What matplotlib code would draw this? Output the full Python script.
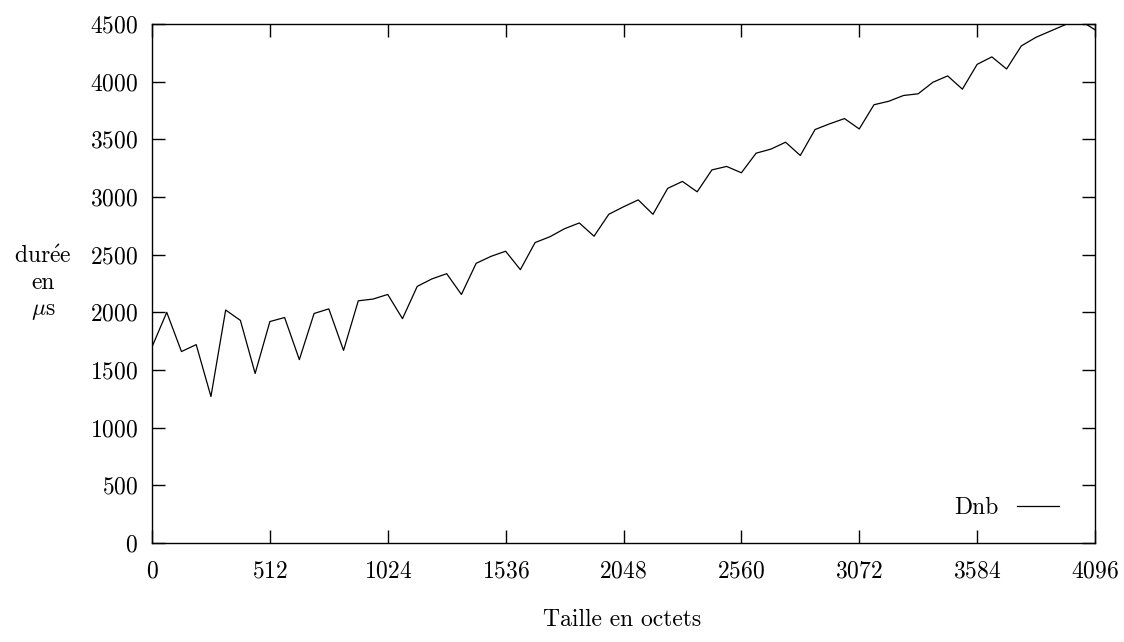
import matplotlib
matplotlib.use("Agg")
import matplotlib.pyplot as plt

# taille du message (octets) et durée mesurée (µs)
tailles = [0, 64, 128, 192, 256, 320, 384, 448, 512, 576, 640, 704, 768, 832,
           896, 960, 1024, 1088, 1152, 1216, 1280, 1344, 1408, 1472, 1536,
           1600, 1664, 1728, 1792, 1856, 1920, 1984, 2048, 2112, 2176, 2240,
           2304, 2368, 2432, 2496, 2560, 2624, 2688, 2752, 2816, 2880, 2944,
           3008, 3072, 3136, 3200, 3264, 3328, 3392, 3456, 3520, 3584, 3648,
           3712, 3776, 3840, 3904, 3968, 4032, 4096]
duree_dnb = [1700, 2000, 1660, 1720, 1270, 2020, 1930, 1470, 1920, 1955, 1590,
             1990, 2030, 1670, 2100, 2115, 2155, 1945, 2225, 2290, 2335, 2155,
             2425, 2485, 2530, 2370, 2605, 2655, 2725, 2775, 2660, 2850, 2915,
             2975, 2850, 3075, 3135, 3045, 3235, 3265, 3210, 3380, 3415, 3475,
             3360, 3585, 3635, 3680, 3590, 3800, 3830, 3880, 3895, 3995, 4050,
             3935, 4150, 4215, 4110, 4310, 4385, 4440, 4495, 4530, 4450]

x_ticks = [0, 512, 1024, 1536, 2048, 2560, 3072, 3584, 4096]
y_ticks = [0, 500, 1000, 1500, 2000, 2500, 3000, 3500, 4000, 4500]

plt.rcParams['font.family'] = ['cmr10', 'DejaVu Serif']
plt.rcParams['mathtext.fontset'] = 'cm'
plt.rcParams['axes.formatter.use_mathtext'] = True
FS = 17

fig = plt.figure(figsize=(11.24, 6.42), dpi=100)
ax = fig.add_axes([152 / 1124, 1 - 543 / 642, (1095 - 152) / 1124, (543 - 24) / 642])

ax.plot(tailles, duree_dnb, color='black', linewidth=0.9, label='Dnb')

ax.set_xlim(0, 4096)
ax.set_ylim(0, 4500)
ax.set_xticks(x_ticks)
ax.set_yticks(y_ticks)
ax.tick_params(direction='in', length=9.5, width=1.0, labelsize=FS,
               top=True, right=True, pad=10)
ax.tick_params(axis='x', pad=12.5)
for s in ax.spines.values():
    s.set_linewidth(1.0)

ax.legend(loc='lower right', bbox_to_anchor=(1 - 12 / 943, 0), frameon=False,
          markerfirst=False, fontsize=FS, handlelength=1.8, handletextpad=0.8,
          borderaxespad=0.6)

fig.text(43 / 1124, 1 - 284 / 642, 'dur$\\mathrm{\\acute{e}}$e\nen\n$\\mu$s',
         ha='center', va='center', fontsize=FS, linespacing=1.22)
fig.text(622 / 1124, 1 - 620 / 642, 'Taille en octets',
         ha='center', va='center', fontsize=FS)

fig.savefig('out.png', dpi=100)
